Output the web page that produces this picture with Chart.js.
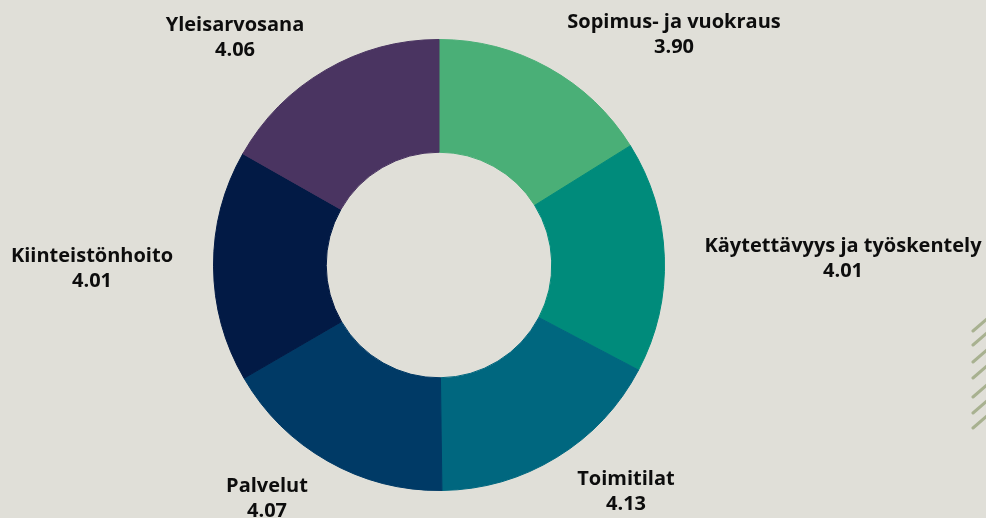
<!DOCTYPE html>
<html>
<head>
<meta charset="utf-8">
<script src="https://cdn.jsdelivr.net/npm/chart.js@4/dist/chart.umd.min.js"></script>
<style>
  html,body{margin:0;padding:0;background:#e0dfd8;}
  #wrap{width:986px;height:518px;position:relative;}
</style>
</head>
<body>
<div id="wrap"><canvas id="c"></canvas></div>
<script>
// data
const categories = ["Sopimus- ja vuokraus","Käytettävyys ja työskentely","Toimitilat","Palvelut","Kiinteistönhoito","Yleisarvosana"];
const scores     = [3.90, 4.01, 4.13, 4.07, 4.01, 4.06];
const colors     = ["#4aaf77","#008b7b","#00677f","#003a66","#021a45","#4a3461"];
// label anchors, offset from the doughnut centre (line 1 centre)
const labelOffsets = [[235,-243],[404,-19],[187,214],[-172,221],[-347,-9],[-204,-240]];

const labelPlugin = {
  id:"labels",
  beforeDraw(chart){
    const ctx=chart.ctx;
    ctx.save();
    ctx.fillStyle="#e0dfd8";
    ctx.fillRect(0,0,chart.width,chart.height);
    // little hatch decoration at the right edge
    ctx.strokeStyle="#a8b190"; ctx.lineWidth=3; ctx.lineCap="round";
    [331,345,362,378,397,413,428].forEach(y=>{
      ctx.beginPath(); ctx.moveTo(973,y); ctx.lineTo(988,y-13); ctx.stroke();
    });
    ctx.restore();
  },
  afterDraw(chart){
    const arc=chart.getDatasetMeta(0).data[0]; if(!arc)return;
    const ctx=chart.ctx;
    ctx.save();
    ctx.fillStyle="#0d0d0d";
    ctx.font="bold 20px 'Open Sans'";
    ctx.textAlign="center"; ctx.textBaseline="middle";
    categories.forEach((name,i)=>{
      const x=arc.x+labelOffsets[i][0], y=arc.y+labelOffsets[i][1];
      ctx.fillText(name,x,y);
      ctx.fillText(scores[i].toFixed(2),x,y+25);
    });
    ctx.restore();
  }
};

new Chart(document.getElementById("c"),{
  type:"doughnut",
  data:{labels:categories,datasets:[{data:scores,backgroundColor:colors,borderColor:colors,borderWidth:1}]},
  options:{
    responsive:true,maintainAspectRatio:false,animation:false,
    cutout:"50%",
    layout:{padding:{left:213,right:321,top:39,bottom:27}},
    plugins:{legend:{display:false},tooltip:{enabled:false}}
  },
  plugins:[labelPlugin]
});
</script>
</body>
</html>
